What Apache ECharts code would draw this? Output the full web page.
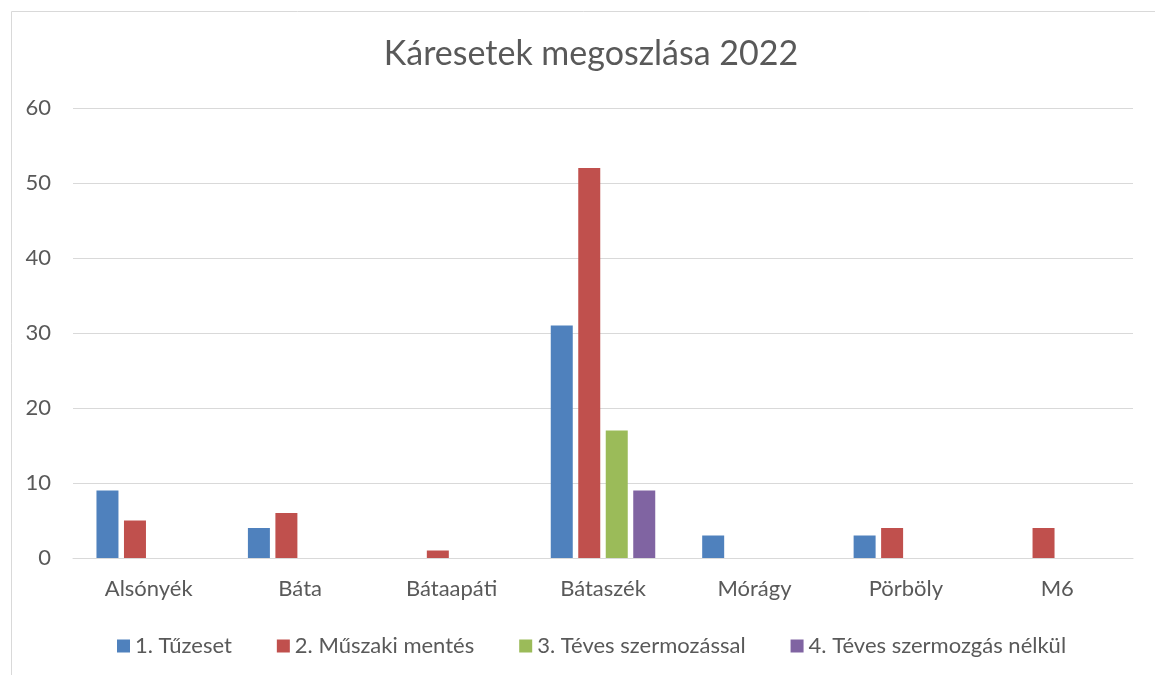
<!DOCTYPE html>
<html>
<head>
<meta charset="utf-8">
<script src="https://cdn.jsdelivr.net/npm/echarts@6/dist/echarts.min.js"></script>
<style>
  html, body { margin: 0; padding: 0; background: #fff; }
  #main { width: 1155px; height: 675px; }
</style>
</head>
<body>
<div id="main"></div>
<script>
// adatok
var categories = ['Alsónyék', 'Báta', 'Bátaapáti', 'Bátaszék', 'Mórágy', 'Pörböly', 'M6'];
var seriesNames = ['1. Tűzeset', '2. Műszaki mentés', '3. Téves szermozással', '4. Téves szermozgás nélkül'];
var tuzeset   = [9, 4, 0, 31, 3, 3, 0];
var muszaki   = [5, 6, 1, 52, 0, 4, 4];
var tevesVel  = [0, 0, 0, 17, 0, 0, 0];
var tevesNelk = [0, 0, 0, 9, 0, 0, 0];
var colors = ['#4f81bd', '#c0504d', '#9bbb59', '#8064a2'];

var values = [tuzeset, muszaki, tevesVel, tevesNelk];
var series = [];
for (var i = 0; i < seriesNames.length; i++) {
  series.push({
    name: seriesNames[i],
    type: 'bar',
    data: values[i],
    barGap: '25%',
    barCategoryGap: '31%',
    itemStyle: { color: colors[i] }
  });
}

var chart = echarts.init(document.getElementById('main'));
chart.setOption({
  animation: false,
  textStyle: { fontFamily: 'Lato' },
  title: {
    text: 'Káresetek megoszlása 2022',
    left: 586,
    textAlign: 'center',
    top: 32,
    textStyle: { fontFamily: 'Lato', fontSize: 34, fontWeight: 'normal', color: '#595959' }
  },
  legend: {
    top: 630,
    left: 112,
    itemWidth: 13,
    itemHeight: 13,
    itemGap: 45,
    icon: 'rect',
    textStyle: { fontFamily: 'Lato', fontSize: 22, color: '#595959' },
    data: seriesNames
  },
  grid: { left: 73, right: 22, top: 108, bottom: 117, containLabel: false },
  xAxis: {
    type: 'category',
    data: categories,
    axisLine: { lineStyle: { color: '#d9d9d9', width: 1 } },
    axisTick: { show: false },
    axisLabel: { fontFamily: 'Lato', fontSize: 22, color: '#595959', margin: 20 }
  },
  yAxis: {
    type: 'value',
    min: 0,
    max: 60,
    interval: 10,
    axisLine: { show: false },
    axisTick: { show: false },
    splitLine: { lineStyle: { color: '#d9d9d9', width: 1 } },
    axisLabel: { fontFamily: 'Lato', fontSize: 22, color: '#595959', margin: 22 }
  },
  graphic: [{
    type: 'rect',
    left: 9, top: 9,
    shape: { width: 1160, height: 700 },
    style: { fill: 'none', stroke: '#d9d9d9', lineWidth: 1 },
    silent: true
  }],
  series: series
});
</script>
</body>
</html>
